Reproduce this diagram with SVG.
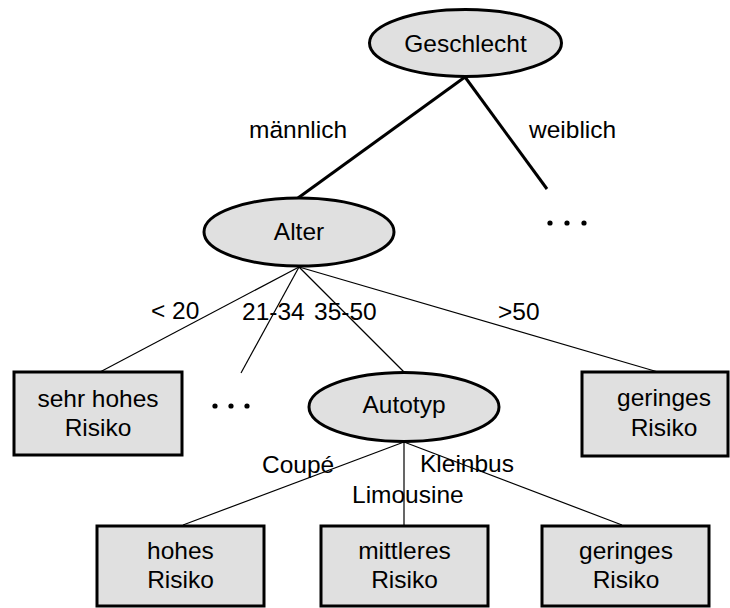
<svg xmlns="http://www.w3.org/2000/svg" width="730" height="608" viewBox="0 0 730 608">
<style>
.n{fill:#e0e0e0;stroke:#000;stroke-width:3}
text{font-family:"Liberation Sans",Arial,sans-serif;font-size:24.5px;fill:#000}
.c{text-anchor:middle}
.thick{stroke:#000;stroke-width:3;fill:none}
.thin{stroke:#000;stroke-width:1.2;fill:none}
</style>
<rect width="730" height="608" fill="#fff"/>
<g id="connectors">
<line class="thick" x1="465" y1="77" x2="298" y2="198"/>
<line class="thick" x1="465" y1="77" x2="547" y2="189"/>
<line class="thin" x1="299" y1="267" x2="100" y2="372"/>
<line class="thin" x1="299" y1="267" x2="241" y2="373"/>
<line class="thin" x1="299" y1="267" x2="404" y2="372"/>
<line class="thin" x1="299" y1="267" x2="658" y2="372"/>
<line class="thin" x1="404" y1="442" x2="183" y2="525"/>
<line class="thin" x1="404" y1="442" x2="404" y2="525" stroke="#555"/>
<line class="thin" x1="404" y1="442" x2="622" y2="525"/>
<text x="249" y="138">männlich</text>
<text x="529" y="138">weiblich</text>
<text x="151" y="319">&lt; 20</text>
<text x="242" y="320">21-34</text>
<text x="314" y="320">35-50</text>
<text x="498" y="320">&gt;50</text>
<text x="262" y="473">Coupé</text>
<text x="420" y="472">Kleinbus</text>
<text x="352" y="503">Limousine</text>
</g>
<g id="dots1"><circle cx="550" cy="223" r="2.6"/><circle cx="567" cy="223" r="2.6"/><circle cx="584" cy="223" r="2.6"/></g>
<g id="dots2"><circle cx="215" cy="406" r="2.6"/><circle cx="231" cy="406" r="2.6"/><circle cx="247" cy="406" r="2.6"/></g>
<g id="geschlecht"><ellipse class="n" cx="465.5" cy="43" rx="96" ry="33.5"/><text class="c" x="465.5" y="52">Geschlecht</text></g>
<g id="alter"><ellipse class="n" cx="299" cy="232" rx="95" ry="34"/><text class="c" x="299" y="240">Alter</text></g>
<g id="autotyp"><ellipse class="n" cx="404" cy="407" rx="95" ry="34.5"/><text class="c" x="404" y="413">Autotyp</text></g>
<g id="sehrhohes"><rect class="n" x="14" y="372" width="168" height="83"/><text class="c" x="98" y="407">sehr hohes</text><text class="c" x="98" y="436">Risiko</text></g>
<g id="geringes1"><rect class="n" x="582" y="372" width="146" height="84"/><text class="c" x="664" y="406">geringes</text><text class="c" x="664" y="436">Risiko</text></g>
<g id="hohes"><rect class="n" x="97" y="526" width="167" height="80"/><text class="c" x="180.5" y="559">hohes</text><text class="c" x="180.5" y="588">Risiko</text></g>
<g id="mittleres"><rect class="n" x="321" y="526" width="167" height="80"/><text class="c" x="404.5" y="559">mittleres</text><text class="c" x="404.5" y="588">Risiko</text></g>
<g id="geringes2"><rect class="n" x="542" y="526" width="167" height="80"/><text class="c" x="626" y="559">geringes</text><text class="c" x="626" y="588">Risiko</text></g>
</svg>
